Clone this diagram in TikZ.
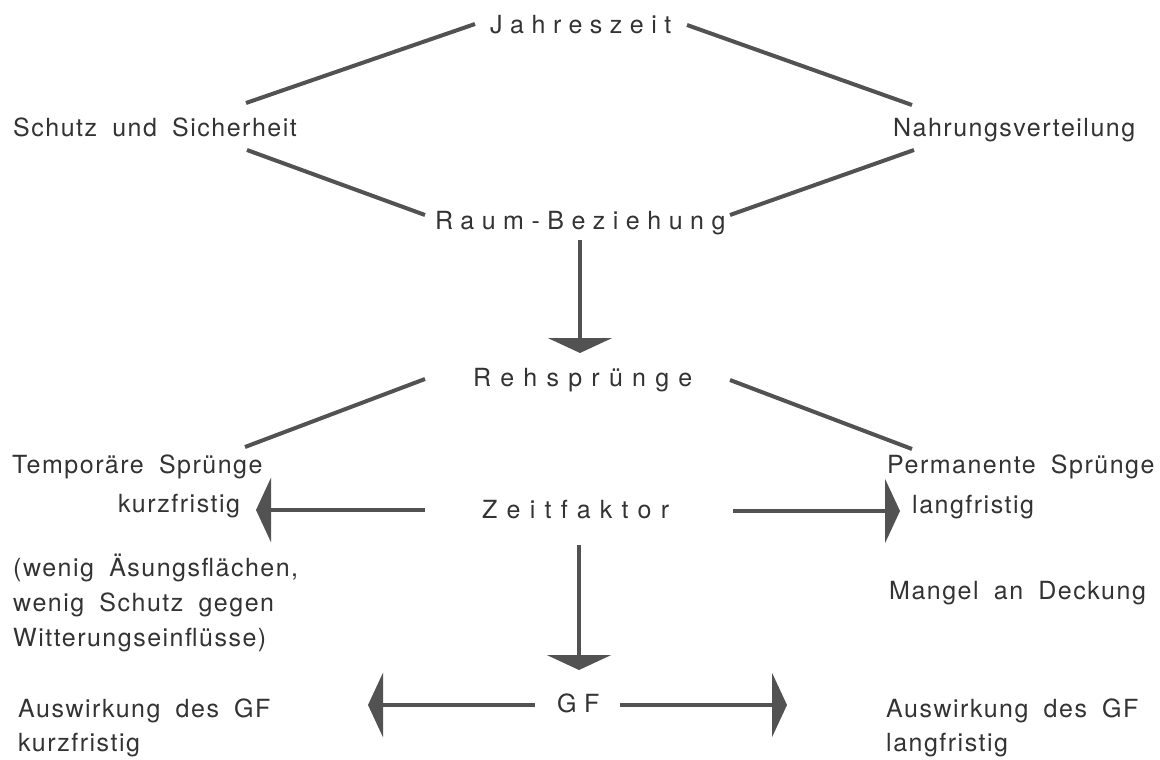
\documentclass[tikz,border=0pt]{standalone}
\usepackage{fontspec}
\setmainfont{TeX Gyre Heros}[LetterSpace=6,WordSpace=1.8]
\newfontfamily\spA{TeX Gyre Heros}[LetterSpace=30]
\newfontfamily\spB{TeX Gyre Heros}[LetterSpace=37]
\usetikzlibrary{arrows.meta,calc}
\definecolor{ink}{HTML}{333333}
\definecolor{rule}{HTML}{525252}
\begin{document}
\begin{tikzpicture}[x=1pt,y=-1pt,
  lbl/.style={anchor=base west,inner sep=0pt,text=ink,font=\fontsize{25}{30}\selectfont},
  ttlA/.style={lbl,font=\fontsize{25}{30}\selectfont\spA},
  ttlB/.style={lbl,font=\fontsize{25}{30}\selectfont\spB},
  link/.style={draw=rule,line width=4pt},
  flow/.style={draw=rule,line width=4pt,-{Triangle[width=64pt,length=15pt]}}]
\useasboundingbox[fill=white] (0,0) rectangle (1160,760);
% nodes
\node[ttlA] (jahr) at (490,34) {Jahreszeit};
\node[lbl] (schutz) at (13,136) {Schutz und Sicherheit};
\node[lbl] (nahr) at (893,136) {Nahrungsverteilung};
\node[ttlA] (raum) at (435,229) {Raum-Beziehung};
\node[ttlB] (reh) at (473,386) {Rehsprünge};
\node[lbl] (temp) at (12,473) {Temporäre Sprünge};
\node[lbl] (perm) at (887,473) {Permanente Sprünge};
\node[lbl] (kurz) at (118,512) {kurzfristig};
\node[ttlB] (zeit) at (482,518) {Zeitfaktor};
\node[lbl] (lang) at (912,513) {langfristig};
\node[lbl] (wenigA) at (13,576) {(wenig Äsungsflächen,};
\node[lbl] (wenigB) at (13,611) {wenig Schutz gegen};
\node[lbl] (wenigC) at (13,646) {Witterungseinflüsse)};
\node[lbl] (mangel) at (889,599) {Mangel an Deckung};
\node[ttlA] (gf) at (557,712) {GF};
\node[lbl] (ausL) at (18,717) {Auswirkung des GF};
\node[lbl] (ausLb) at (18,751) {kurzfristig};
\node[lbl] (ausR) at (886,717) {Auswirkung des GF};
\node[lbl] (ausRb) at (886,751) {langfristig};
% plain links
\draw[link] ($(jahr.base west)+(-15,-10)$) -- ($(schutz.base west)+(233,-33)$);
\draw[link] ($(schutz.base west)+(234,14)$) -- ($(raum.base west)+(-10,-14)$);
\draw[link] ($(jahr.base west)+(197,-9)$) -- ($(nahr.base west)+(19,-31)$);
\draw[link] ($(raum.base west)+(295,-14)$) -- ($(nahr.base west)+(21,14)$);
\draw[link] ($(reh.base west)+(-48,-7)$) -- ($(temp.base west)+(233,-26)$);
\draw[link] ($(reh.base west)+(257,-6)$) -- ($(perm.base west)+(25,-24)$);
% arrows
\draw[flow] ($(raum.base west)+(145,11)$) -- ($(reh.base west)+(107,-33)$);
\draw[flow] ($(zeit.base west)+(-57,-8)$) -- ($(kurz.base west)+(138,-2)$);
\draw[flow] ($(zeit.base west)+(251,-7)$) -- ($(lang.base west)+(-12,-2)$);
\draw[flow] ($(zeit.base west)+(97,27)$) -- ($(gf.base west)+(22,-42)$);
\draw[flow] ($(gf.base west)+(-22,-7)$) -- ($(ausL.base west)+(350,-12)$);
\draw[flow] ($(gf.base west)+(63,-7)$) -- ($(ausR.base west)+(-99,-12)$);
\end{tikzpicture}
\end{document}
